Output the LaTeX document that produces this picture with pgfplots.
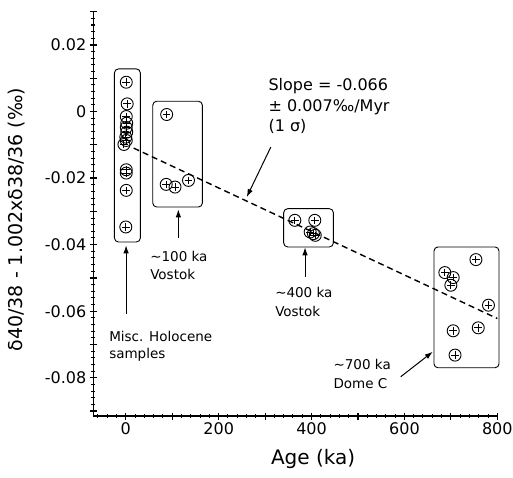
\documentclass[border=0pt]{standalone}
\usepackage{pgfplots}
\pgfplotsset{compat=1.18}
\usepackage{pgfplotstable}
\usepackage{fontspec}
\setmainfont{DejaVu Sans}
\usetikzlibrary{arrows.meta}

\pgfplotstableread{
x y
1 0.0088
3 0.0023
1 -0.0015
2 -0.0035
1 -0.0048
2 -0.0062
0 -0.0077
1 -0.0087
-4 -0.0099
1 -0.0175
1 -0.0185
1 -0.0237
0 -0.0347
88 -0.0009
87 -0.0219
106 -0.0227
135 -0.0207
364 -0.0327
407 -0.0327
397 -0.0362
404 -0.0367
408 -0.0372
754 -0.0445
687 -0.0484
705 -0.0499
700 -0.0522
781 -0.0582
759 -0.0650
705 -0.0659
709 -0.0732
}\pts

\pgfplotstableread{
x y
17 -0.0110
800 -0.0622
}\fit

\newcommand\tickfont{\fontsize{16}{16}\selectfont}
\newcommand\annfont{\fontsize{13.5}{13.5}\selectfont}
\newcommand\slopefont{\fontsize{16}{16}\selectfont}

\begin{document}
\begin{tikzpicture}[x=1pt,y=1pt]
\useasboundingbox (0,0) rectangle (513,477);
\begin{axis}[
  at={(93.3pt,61pt)}, anchor=south west,
  scale only axis, width=404pt, height=404.3pt,
  xmin=-70, xmax=800, ymin=-0.0915, ymax=0.030,
  scaled x ticks=false, scaled y ticks=false,
  axis lines=left,
  axis line style={-, line width=1.5pt},
  tick align=center,
  major tick length=7pt, minor tick length=4pt,
  every tick/.style={line width=1.2pt, black},
  minor tick style={line width=1pt},
  xtick={0,200,400,600,800},
  xticklabels={0,200,400,600,800},
  extra x ticks={100,300,500,700},
  extra x tick labels={},
  minor xtick={-60,-40,...,800},
  ytick={-0.08,-0.06,-0.04,-0.02,0,0.02},
  yticklabels={-0.08,-0.06,-0.04,-0.02,0,0.02},
  extra y ticks={-0.09,-0.07,-0.05,-0.03,-0.01,0.01,0.03},
  extra y tick labels={},
  minor ytick={-0.090,-0.088,...,0.030},
  ticklabel style={font=\tickfont},
  /pgf/number format/assume math mode=true,
  xlabel={Age (ka)},
  ylabel={δ40/38 - 1.002xδ38/36 (‰)},
  xlabel style={font=\fontsize{20}{20}\selectfont, at={(axis description cs:0.544,-0.106)}, anchor=center},
  ylabel style={font=\fontsize{19}{19}\selectfont, at={(axis description cs:-0.191,0.486)}, anchor=center, rotate=0},
  clip=false,
]
% boxes
\draw[line width=0.9pt, rounded corners=4pt] (axis cs:-24.5,-0.0392) rectangle (axis cs:31.4,0.0128);
\draw[line width=0.9pt, rounded corners=4pt] (axis cs:58.1,-0.0287) rectangle (axis cs:164.9,0.0031);
\draw[line width=0.9pt, rounded corners=4pt] (axis cs:340,-0.0407) rectangle (axis cs:447,-0.0292);
\draw[line width=0.9pt, rounded corners=4pt] (axis cs:663.7,-0.0770) rectangle (axis cs:803.7,-0.0407);
% fit line
\addplot[line width=1.4pt, dash pattern=on 6pt off 4pt] table[x=x,y=y] {\fit};
% markers
\addplot[only marks, mark=o, mark size=6pt, mark options={line width=0.9pt, fill=none}] table[x=x,y=y] {\pts};
\addplot[only marks, mark=+, mark size=3.8pt, mark options={line width=0.9pt}] table[x=x,y=y] {\pts};
% arrows
\draw[line width=1pt, -{Latex[length=8pt,width=5.5pt]}] (axis cs:0.6,-0.0609) -- (axis cs:0.6,-0.0402);
\draw[line width=1pt, -{Latex[length=8pt,width=5.5pt]}] (axis cs:113.2,-0.0381) -- (axis cs:113.2,-0.0294);
\draw[line width=1pt, -{Latex[length=8pt,width=5.5pt]}] (axis cs:386,-0.0497) -- (axis cs:386,-0.0408);
\draw[line width=1pt, -{Latex[length=8pt,width=5.5pt]}] (axis cs:312.2,-0.0107) -- (axis cs:260.5,-0.0257);
\draw[line width=1pt, -{Latex[length=8pt,width=5.5pt]}] (axis cs:592,-0.0797) -- (axis cs:661,-0.0722);
% texts
\node[anchor=base west, inner sep=0pt, font=\slopefont] at (axis cs:307,0.0063) {Slope = -0.066};
\node[anchor=base west, inner sep=0pt, font=\slopefont] at (axis cs:307,0.00015) {± 0.007‰/Myr};
\node[anchor=base west, inner sep=0pt, font=\slopefont] at (axis cs:307,-0.0060) {(1 σ)};
\node[anchor=base west, inner sep=0pt, font=\annfont] at (axis cs:-36,-0.0690) {Misc. Holocene};
\node[anchor=base west, inner sep=0pt, font=\annfont] at (axis cs:-36,-0.0743) {samples};
\node[anchor=base west, inner sep=0pt, font=\annfont] at (axis cs:52.3,-0.0450) {\textasciitilde100 ka};
\node[anchor=base west, inner sep=0pt, font=\annfont] at (axis cs:52.3,-0.0506) {Vostok};
\node[anchor=base west, inner sep=0pt, font=\annfont] at (axis cs:321.4,-0.0559) {\textasciitilde400 ka};
\node[anchor=base west, inner sep=0pt, font=\annfont] at (axis cs:321.4,-0.0615) {Vostok};
\node[anchor=base west, inner sep=0pt, font=\annfont] at (axis cs:447,-0.0775) {\textasciitilde700 ka};
\node[anchor=base west, inner sep=0pt, font=\annfont] at (axis cs:447,-0.0832) {Dome C};
\end{axis}
\end{tikzpicture}
\end{document}
